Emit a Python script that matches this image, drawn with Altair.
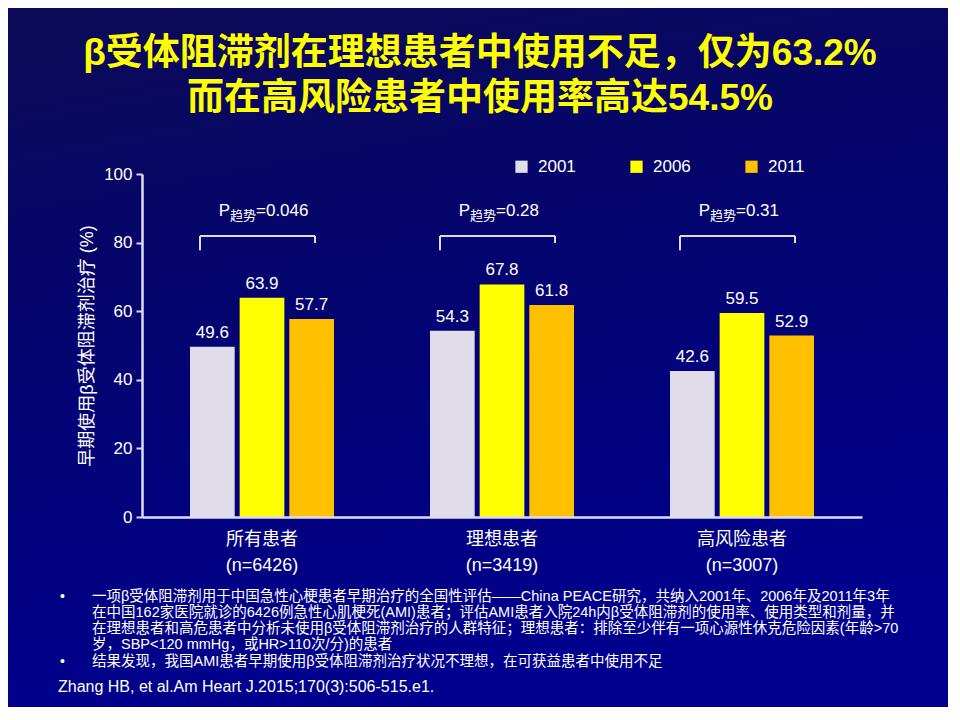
import altair as alt
import pandas as pd

# ---------------- data ----------------
groups = ["所有患者|(n=6426)", "理想患者|(n=3419)", "高风险患者|(n=3007)"]
years = ["2001", "2006", "2011"]
v2001 = [49.6, 54.3, 42.6]
v2006 = [63.9, 67.8, 59.5]
v2011 = [57.7, 61.8, 52.9]
p_trend = ["0.046", "0.28", "0.31"]
y_ticks = [0, 20, 40, 60, 80, 100]
colors = ["#e0dcea", "#ffff00", "#ffc000"]

title_lines = ["β受体阻滞剂在理想患者中使用不足，仅为63.2%", "而在高风险患者中使用率高达54.5%"]
note_lines = [
    "一项β受体阻滞剂用于中国急性心梗患者早期治疗的全国性评估——China PEACE研究，共纳入2001年、2006年及2011年3年",
    "在中国162家医院就诊的6426例急性心肌梗死(AMI)患者；评估AMI患者入院24h内β受体阻滞剂的使用率、使用类型和剂量，并",
    "在理想患者和高危患者中分析未使用β受体阻滞剂治疗的人群特征；理想患者：排除至少伴有一项心源性休克危险因素(年龄>70",
    "岁，SBP<120 mmHg，或HR>110次/分)的患者",
]
note_last = "结果发现，我国AMI患者早期使用β受体阻滞剂治疗状况不理想，在可获益患者中使用不足"
citation = "Zhang HB, et al.Am Heart J.2015;170(3):506-515.e1."
y_title = "早期使用β受体阻滞剂治疗 (%)"

rows = []
for yr, vals in zip(years, [v2001, v2006, v2011]):
    for g, v in zip(groups, vals):
        rows.append({"group": g, "year": yr, "value": v})
df = pd.DataFrame(rows)
pdf = pd.DataFrame({"group": groups, "p": ["=" + p for p in p_trend]})
one = pd.DataFrame({"k": [0]})

FONT = "Liberation Sans, Arial, Noto Sans CJK SC, sans-serif"
LINE = "#dcdcec"
W, H = 720, 343
PL, PT, PR, PB = 134, 166, 86, 190

x_enc = alt.X(
    "group:N", sort=groups,
    scale=alt.Scale(paddingInner=0.4, paddingOuter=0.2),
    axis=alt.Axis(title=None, labelExpr="split(datum.label, '|')", labelAngle=0,
                  labelFontSize=18, labelLineHeight=26, labelPadding=13,
                  labelColor="white", labelFont=FONT, ticks=False,
                  domainColor=LINE, domainWidth=2.5, zindex=1),
)
xo_enc = alt.XOffset("year:N", sort=years, scale=alt.Scale(paddingInner=0.1, paddingOuter=0))
y_enc = alt.Y(
    "value:Q", scale=alt.Scale(domain=[0, 100]),
    axis=alt.Axis(title=y_title, values=y_ticks, grid=False, tickSize=6, tickWidth=2,
                  tickColor=LINE, domainColor=LINE, domainWidth=2.5,
                  labelFontSize=17, labelColor="white", labelFont=FONT, labelPadding=4,
                  titleFontSize=18, titleColor="white", titleFont=FONT,
                  titleFontWeight="normal", titlePadding=7, zindex=1),
)

bg = alt.Chart(one).mark_rect(
    color=alt.LinearGradient(
        gradient="linear",
        stops=[alt.GradientStop(color="#0c0a56", offset=0),
               alt.GradientStop(color="#04046f", offset=0.45),
               alt.GradientStop(color="#00008e", offset=1)],
        x1=0, x2=0.25, y1=0, y2=1,
    )
).encode(x=alt.value(-PL), x2=alt.value(W + PR), y=alt.value(-PT), y2=alt.value(H + PB))

bars = alt.Chart(df).mark_bar().encode(
    x=x_enc, xOffset=xo_enc, y=y_enc,
    color=alt.Color("year:N", sort=years,
                    scale=alt.Scale(domain=years, range=colors),
                    legend=alt.Legend(title=None, orient="none", direction="horizontal",
                                      legendX=371, legendY=-16, symbolType="square",
                                      symbolSize=150, symbolStrokeWidth=0,
                                      labelFontSize=17, labelColor="white", labelFont=FONT,
                                      labelOffset=8, columnPadding=52, padding=0, zindex=1)),
)

labels = alt.Chart(df).mark_text(
    dy=-9, baseline="alphabetic", fontSize=17, color="white", font=FONT
).encode(x=x_enc, xOffset=xo_enc, y=y_enc, text=alt.Text("value:Q", format=".1f"))

br_h = alt.Chart(pdf).mark_rule(color=LINE, strokeWidth=2, xOffset=-62, x2Offset=53).encode(
    x=x_enc, x2=alt.X2("group"), y=alt.YDatum(81.9))
br_l = alt.Chart(pdf).mark_rule(color=LINE, strokeWidth=2, xOffset=-62).encode(
    x=x_enc, y=alt.YDatum(81.9), y2=alt.Y2Datum(77.8))
br_r = alt.Chart(pdf).mark_rule(color=LINE, strokeWidth=2, xOffset=53).encode(
    x=x_enc, y=alt.YDatum(81.9), y2=alt.Y2Datum(79.9))

p_main = alt.Chart(pdf).mark_text(text="P", align="right", dx=-32, baseline="alphabetic",
                                  fontSize=17, color="white", font=FONT).encode(
    x=x_enc, y=alt.YDatum(87.8))
p_sub = alt.Chart(pdf).mark_text(text="趋势", align="left", dx=-32, dy=4, baseline="alphabetic",
                                 fontSize=13, color="white", font=FONT).encode(
    x=x_enc, y=alt.YDatum(87.8))
p_val = alt.Chart(pdf).mark_text(align="left", dx=-6, baseline="alphabetic",
                                 fontSize=17, color="white", font=FONT).encode(
    x=x_enc, y=alt.YDatum(87.8), text="p:N")

title = alt.Chart(one).mark_text(
    text=title_lines, fontSize=37, fontWeight="bold", color="#ffff00", font=FONT,
    align="center", baseline="alphabetic", lineHeight=45
).encode(x=alt.value(338), y=alt.value(-109))

notes = alt.Chart(one).mark_text(
    text=note_lines, fontSize=14.5, color="white", font=FONT, align="left",
    baseline="alphabetic", lineHeight=16
).encode(x=alt.value(-50), y=alt.value(427))
note2 = alt.Chart(one).mark_text(
    text=note_last, fontSize=14.5, color="white", font=FONT, align="left", baseline="alphabetic"
).encode(x=alt.value(-50), y=alt.value(492))
bullet1 = alt.Chart(one).mark_text(
    text="•", fontSize=14, color="white", font=FONT, align="left", baseline="alphabetic"
).encode(x=alt.value(-82), y=alt.value(427))
bullet2 = alt.Chart(one).mark_text(
    text="•", fontSize=14, color="white", font=FONT, align="left", baseline="alphabetic"
).encode(x=alt.value(-82), y=alt.value(492))
cite = alt.Chart(one).mark_text(
    text=citation, fontSize=16, color="white", font=FONT, align="left", baseline="alphabetic"
).encode(x=alt.value(-84), y=alt.value(518))

chart = alt.layer(
    bg, bars, labels, br_h, br_l, br_r, p_main, p_sub, p_val, title, notes, note2,
    bullet1, bullet2, cite
).properties(
    width=W, height=H,
    autosize=alt.AutoSizeParams(type="none"),
    padding={"left": PL, "top": PT, "right": PR, "bottom": PB},
).configure_view(stroke=None).configure(background="#05056e")

chart.save("out.html", embed_options={"renderer": "svg", "actions": False})
